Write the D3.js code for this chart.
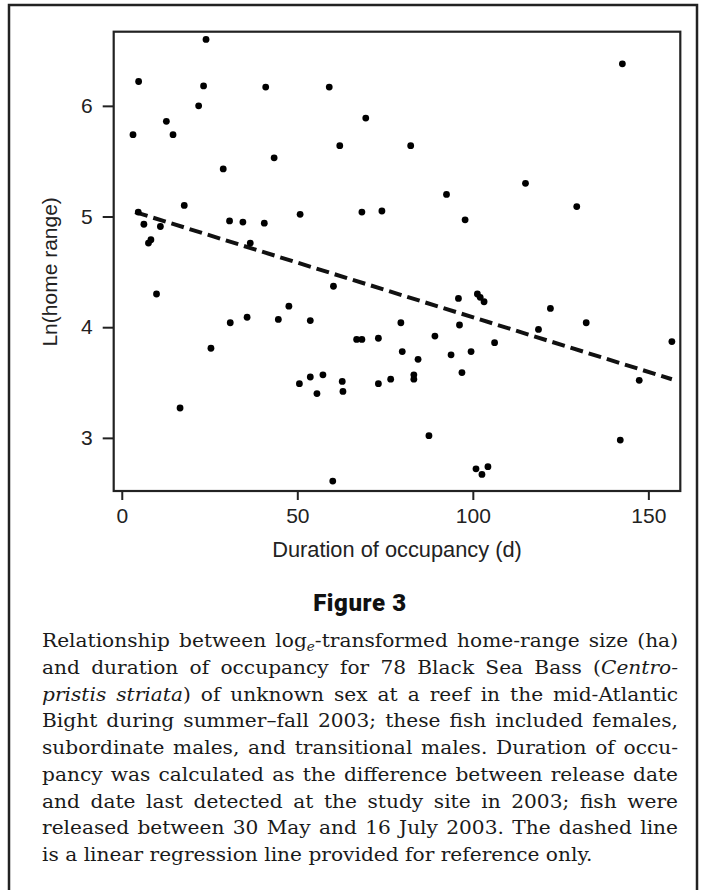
<!DOCTYPE html>
<html>
<head>
<meta charset="utf-8">
<script src="https://cdn.jsdelivr.net/npm/d3@7"></script>
<style>
  body { margin: 0; background: #fff; }
  svg { display: block; }
</style>
</head>
<body>
<svg width="703" height="890"></svg>
<script>
// duration of occupancy (d) and ln(home range)
const duration = [24.0, 4.8, 23.3, 41.0, 59.1, 21.9, 69.5, 12.7, 3.2, 14.6,
  62.1, 43.4, 28.9, 17.8, 4.7, 68.4, 74.1, 50.8, 6.3, 11.0,
  30.7, 34.5, 40.6, 7.6, 8.3, 36.6, 60.3, 142.6, 82.3, 115.0,
  92.5, 129.6, 97.8, 9.9, 47.6, 30.9, 35.7, 44.6, 53.7, 25.4,
  66.9, 68.4, 73.1, 79.5, 79.9, 16.6, 50.6, 53.7, 57.3, 55.6,
  62.8, 63.0, 73.1, 76.6, 60.1, 95.9, 101.3, 102.1, 103.2, 96.2,
  89.2, 84.4, 83.2, 83.2, 93.8, 99.5, 96.9, 106.2, 122.1, 118.7,
  132.3, 156.7, 147.4, 87.5, 142.0, 100.9, 102.6, 104.3];
const lnRange = [6.60, 6.22, 6.18, 6.17, 6.17, 6.00, 5.89, 5.86, 5.74, 5.74,
  5.64, 5.53, 5.43, 5.10, 5.04, 5.04, 5.05, 5.02, 4.93, 4.91,
  4.96, 4.95, 4.94, 4.76, 4.79, 4.76, 4.37, 6.38, 5.64, 5.30,
  5.20, 5.09, 4.97, 4.30, 4.19, 4.04, 4.09, 4.07, 4.06, 3.81,
  3.89, 3.89, 3.90, 4.04, 3.78, 3.27, 3.49, 3.55, 3.57, 3.40,
  3.51, 3.42, 3.49, 3.53, 2.61, 4.26, 4.30, 4.27, 4.23, 4.02,
  3.92, 3.71, 3.57, 3.53, 3.75, 3.78, 3.59, 3.86, 4.17, 3.98,
  4.04, 3.87, 3.52, 3.02, 2.98, 2.72, 2.67, 2.74];

// regression line end points
const regX = [3.8, 156.7];
const regY = [5.04, 3.53];

const xTicks = [0, 50, 100, 150];
const yTicks = [3, 4, 5, 6];

const xTitle = "Duration of occupancy (d)";
const yTitle = "Ln(home range)";
const figTitle = "Figure 3";

// caption lines, segments: [text, style]
const caption = [
  [["Relationship between log"], ["e", "sub"], ["-transformed home-range size (ha)", "up"]],
  [["and duration of occupancy for 78 Black Sea Bass ("], ["Centro-", "i"]],
  [["pristis striata", "i"], [") of unknown sex at a reef in the mid-Atlantic"]],
  [["Bight during summer\u2013fall 2003; these fish included females,"]],
  [["subordinate males, and transitional males. Duration of occu-"]],
  [["pancy was calculated as the difference between release date"]],
  [["and date last detected at the study site in 2003; fish were"]],
  [["released between 30 May and 16 July 2003. The dashed line"]],
  [["is a linear regression line provided for reference only."]]
];

const svg = d3.select("svg");
const pLeft = 113.7, pRight = 680.3, pTop = 31.7, pBottom = 491;

// outer frame
svg.append("rect")
  .attr("x", 9).attr("y", 5)
  .attr("width", 688).attr("height", 920)
  .attr("fill", "none").attr("stroke", "#222").attr("stroke-width", 2.5);

const x = d3.scaleLinear().domain([-2.3, 159.1]).range([pLeft, pRight]);
const y = d3.scaleLinear().domain([2.52, 6.67]).range([pBottom, pTop]);

const xAxis = svg.append("g")
  .attr("transform", "translate(0," + pBottom + ")")
  .call(d3.axisBottom(x).tickValues(xTicks).tickFormat(d3.format("d")).tickSize(9).tickPadding(8));
const yAxis = svg.append("g")
  .attr("transform", "translate(" + pLeft + ",0)")
  .call(d3.axisLeft(y).tickValues(yTicks).tickFormat(d3.format("d")).tickSize(11).tickPadding(10));

[xAxis, yAxis].forEach(function(a) {
  a.select(".domain").remove();
  a.selectAll("line").attr("stroke", "#222").attr("stroke-width", 2);
  a.selectAll("text")
    .attr("font-family", "'Liberation Sans', Arial, sans-serif")
    .attr("font-size", 21)
    .attr("fill", "#222");
});

// plot box
svg.append("rect")
  .attr("x", pLeft).attr("y", pTop)
  .attr("width", pRight - pLeft).attr("height", pBottom - pTop)
  .attr("fill", "none").attr("stroke", "#222").attr("stroke-width", 2.2);

// regression line
svg.append("line")
  .attr("x1", x(regX[0])).attr("y1", y(regY[0]))
  .attr("x2", x(regX[1])).attr("y2", y(regY[1]))
  .attr("stroke", "#111").attr("stroke-width", 4)
  .attr("stroke-dasharray", "13,6");

// points
svg.append("g").selectAll("circle")
  .data(duration)
  .enter()
  .append("circle")
  .attr("cx", function(d) { return x(d); })
  .attr("cy", function(d, i) { return y(lnRange[i]); })
  .attr("r", 3.4)
  .attr("fill", "#000");

// axis titles
svg.append("text")
  .attr("x", (pLeft + pRight) / 2).attr("y", 557)
  .attr("text-anchor", "middle")
  .attr("font-family", "'Liberation Sans', Arial, sans-serif")
  .attr("font-size", 21.8).attr("fill", "#222")
  .text(xTitle);

svg.append("text")
  .attr("transform", "translate(50," + y(4.5) + ") rotate(-90)")
  .attr("dy", "0.35em")
  .attr("text-anchor", "middle")
  .attr("font-family", "'Liberation Sans', Arial, sans-serif")
  .attr("font-size", 21).attr("fill", "#222")
  .text(yTitle);

// figure number
svg.append("text")
  .attr("x", 360).attr("y", 611)
  .attr("text-anchor", "middle")
  .attr("font-family", "Roboto, 'DejaVu Sans', sans-serif")
  .attr("font-weight", 900)
  .attr("font-size", 24).attr("letter-spacing", 0.6).attr("fill", "#111")
  .text(figTitle);

// caption: wide serif, justified by stretching the word gaps
const capLeft = 42, capWidth = 636, capStretch = 1.09;
caption.forEach(function(line, i) {
  const t = svg.append("text")
    .attr("transform", "translate(" + capLeft + "," + (647 + i * 26.75) + ") scale(" + capStretch + ",1)")
    .attr("font-family", "'DejaVu Serif', serif")
    .attr("font-size", 18.5).attr("fill", "#1a1a1a");
  let spaces = 0;
  line.forEach(function(seg) {
    const s = t.append("tspan").text(seg[0]);
    spaces += (seg[0].match(/ /g) || []).length;
    if (seg[1] === "i") s.attr("font-style", "italic");
    if (seg[1] === "sub") s.attr("font-style", "italic").attr("font-size", 12.5).attr("dy", 4);
    if (seg[1] === "up") s.attr("dy", -4);
  });
  if (i < caption.length - 1 && spaces > 0) {
    const w = t.node().getComputedTextLength();
    t.attr("word-spacing", (capWidth / capStretch - w) / spaces);
  }
});
</script>
</body>
</html>
